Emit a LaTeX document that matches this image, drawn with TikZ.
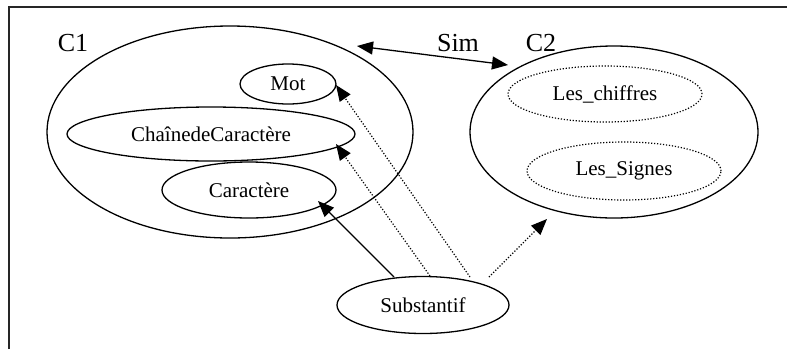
\documentclass[tikz,border=0pt]{standalone}
\usepackage{fontspec}
\setmainfont{Liberation Serif}
\usetikzlibrary{shapes.geometric,arrows.meta}
\begin{document}
\begin{tikzpicture}[x=1pt,y=-1pt,
  oval/.style={draw,ellipse,line width=1.3pt,inner sep=0pt,font=\fontsize{21}{24}\selectfont},
  dotoval/.style={oval,line width=1.2pt,dash pattern=on 1.2pt off 1.8pt},
  lab/.style={font=\fontsize{26}{30}\selectfont,inner sep=0pt},
  tip/.style={-{Triangle[length=16pt,width=13pt]}},
  solidarrow/.style={tip,line width=1.3pt},
  dotarrow/.style={tip,line width=1.2pt,dash pattern=on 1.2pt off 1.8pt}]
\useasboundingbox (0,0) rectangle (787,349);
% frame
\draw[line width=2pt,draw=black!85] (9,349) -- (9,7) -- (787,7);
% C1 group
\node[oval,minimum width=366pt,minimum height=212pt] (C1) at (230,132) {};
\node[oval,minimum width=96pt,minimum height=40pt] (mot) at (288,84) {Mot};
\node[oval,minimum width=288pt,minimum height=54pt] (chaine) at (211,134) {ChaînedeCaractère};
\node[oval,minimum width=174pt,minimum height=56pt] (car) at (249,190) {Caractère};
% C2 group
\node[oval,minimum width=288pt,minimum height=172pt] (C2) at (614,132) {};
\node[dotoval,minimum width=194pt,minimum height=56pt] (chif) at (605,94) {Les\_chiffres};
\node[dotoval,minimum width=194pt,minimum height=58pt] (sign) at (624,171) {Les\_Signes};
% Substantif
\node[oval,minimum width=172pt,minimum height=57pt] (subst) at (423,305) {Substantif};
% labels
\node[lab] (l1) at (73,43) {C1};
\node[lab] (lsim) at (458,43) {Sim};
\node[lab] (l2) at (541,43) {C2};
% Sim arrow
\coordinate (simA) at (357,46);
\coordinate (simB) at (508,65);
\draw[solidarrow,{Triangle[length=16pt,width=13pt]}-{Triangle[length=16pt,width=13pt]}] (simA) -- (simB);
% arrows from Substantif
\coordinate (s1) at (394,277);
\coordinate (s2) at (430,276);
\coordinate (s3) at (470,277);
\coordinate (s4) at (489,277);
\coordinate (tCar) at (318,201);
\coordinate (tCh) at (336,144);
\coordinate (tMot) at (336,85);
\coordinate (tC2) at (547,219);
\draw[solidarrow] (s1) -- (tCar);
\draw[dotarrow] (s2) -- (tCh);
\draw[dotarrow] (s3) -- (tMot);
\draw[dotarrow] (s4) -- (tC2);
\end{tikzpicture}
\end{document}
